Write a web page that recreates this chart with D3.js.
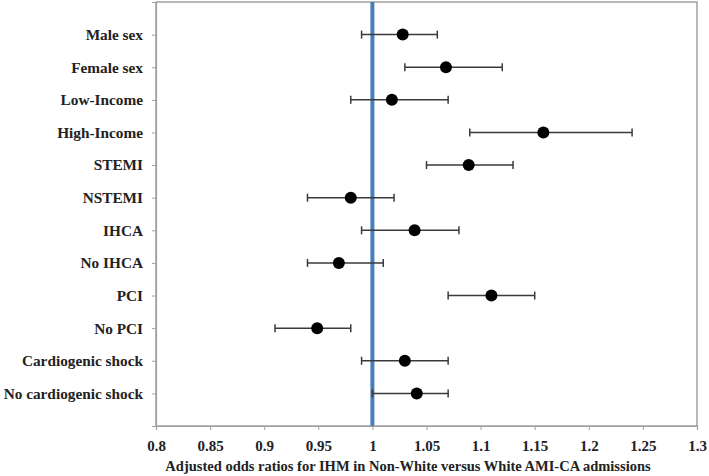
<!DOCTYPE html>
<html>
<head>
<meta charset="utf-8">
<script src="https://cdn.jsdelivr.net/npm/d3@7"></script>
<style>
  html, body { margin: 0; padding: 0; background: #fff; }
  svg { display: block; }
  text { font-family: "Liberation Serif", "Times New Roman", serif; font-weight: bold; fill: #222; }
</style>
</head>
<body>
<svg id="chart" width="709" height="476"></svg>
<script>
const categories = ["Male sex", "Female sex", "Low-Income", "High-Income", "STEMI", "NSTEMI",
  "IHCA", "No IHCA", "PCI", "No PCI", "Cardiogenic shock", "No cardiogenic shock"];
const oddsRatio = [1.028, 1.068, 1.018, 1.158, 1.089, 0.98, 1.039, 0.969, 1.11, 0.949, 1.03, 1.041];
const ciLower   = [0.99, 1.03, 0.98, 1.09, 1.05, 0.94, 0.99, 0.94, 1.07, 0.91, 0.99, 1.00];
const ciUpper   = [1.06, 1.12, 1.07, 1.24, 1.13, 1.02, 1.08, 1.01, 1.15, 0.98, 1.07, 1.07];
const xTicks = [0.8, 0.85, 0.9, 0.95, 1, 1.05, 1.1, 1.15, 1.2, 1.25, 1.3];
const referenceValue = 1;
const xTitle = "Adjusted odds ratios for IHM in Non-White versus White AMI-CA admissions";

const margin = {left: 156, right: 12, top: 2, bottom: 50};
const W = 709, H = 476;
const svg = d3.select("#chart");

const x = d3.scaleLinear().domain([0.8, 1.3]).range([margin.left, W - margin.right]);
const y = d3.scaleLinear().domain([0, categories.length + 1]).range([margin.top, H - margin.bottom]);

// plot frame
svg.append("rect")
  .attr("x", x(0.8)).attr("y", y(0))
  .attr("width", x(1.3) - x(0.8)).attr("height", y(categories.length + 1) - y(0))
  .attr("fill", "none").attr("stroke", "#8a8a8a").attr("stroke-width", 1.2);

// x axis
const xAxis = svg.append("g")
  .attr("transform", `translate(0,${y(categories.length + 1)})`)
  .call(d3.axisBottom(x).tickValues(xTicks).tickSize(4).tickPadding(10)
    .tickFormat(d => String(d)));
xAxis.select(".domain").attr("stroke", "#a0a0a0").attr("stroke-width", 1.2);
xAxis.selectAll(".tick line").attr("stroke", "#a0a0a0");
xAxis.selectAll("text").attr("font-size", 15).attr("fill", "#222")
  .style("font-family", "'Liberation Serif', serif").style("font-weight", "bold");

// y axis
const yAxis = svg.append("g")
  .attr("transform", `translate(${x(0.8)},0)`)
  .call(d3.axisLeft(y).tickValues(d3.range(1, categories.length + 1)).tickSize(4).tickPadding(9)
    .tickFormat(i => categories[i - 1]));
yAxis.select(".domain").attr("stroke", "#a0a0a0").attr("stroke-width", 1.2);
yAxis.selectAll(".tick line").attr("stroke", "#a0a0a0");
yAxis.selectAll("text").attr("font-size", 15.3).attr("fill", "#222")
  .style("font-family", "'Liberation Serif', serif").style("font-weight", "bold");

// reference line
svg.append("line")
  .attr("x1", x(referenceValue)).attr("x2", x(referenceValue))
  .attr("y1", y(0)).attr("y2", y(categories.length + 1))
  .attr("stroke", "#4a7ebb").attr("stroke-width", 4);

// error bars
const rows = categories.map((c, i) => ({c, i: i + 1, or: oddsRatio[i], lo: ciLower[i], hi: ciUpper[i]}));
const eb = svg.append("g").selectAll("g").data(rows).join("g");
eb.append("line")
  .attr("x1", d => x(d.lo)).attr("x2", d => x(d.hi))
  .attr("y1", d => y(d.i)).attr("y2", d => y(d.i))
  .attr("stroke", "#3a3a3a").attr("stroke-width", 1.5);
eb.append("line")
  .attr("x1", d => x(d.lo)).attr("x2", d => x(d.lo))
  .attr("y1", d => y(d.i) - 4).attr("y2", d => y(d.i) + 4)
  .attr("stroke", "#3a3a3a").attr("stroke-width", 1.5);
eb.append("line")
  .attr("x1", d => x(d.hi)).attr("x2", d => x(d.hi))
  .attr("y1", d => y(d.i) - 4).attr("y2", d => y(d.i) + 4)
  .attr("stroke", "#3a3a3a").attr("stroke-width", 1.5);
eb.append("circle")
  .attr("cx", d => x(d.or)).attr("cy", d => y(d.i)).attr("r", 6)
  .attr("fill", "#000");

// x title
svg.append("text")
  .attr("x", 408).attr("y", 471)
  .attr("text-anchor", "middle").attr("font-size", 14.5)
  .text(xTitle);
</script>
</body>
</html>
